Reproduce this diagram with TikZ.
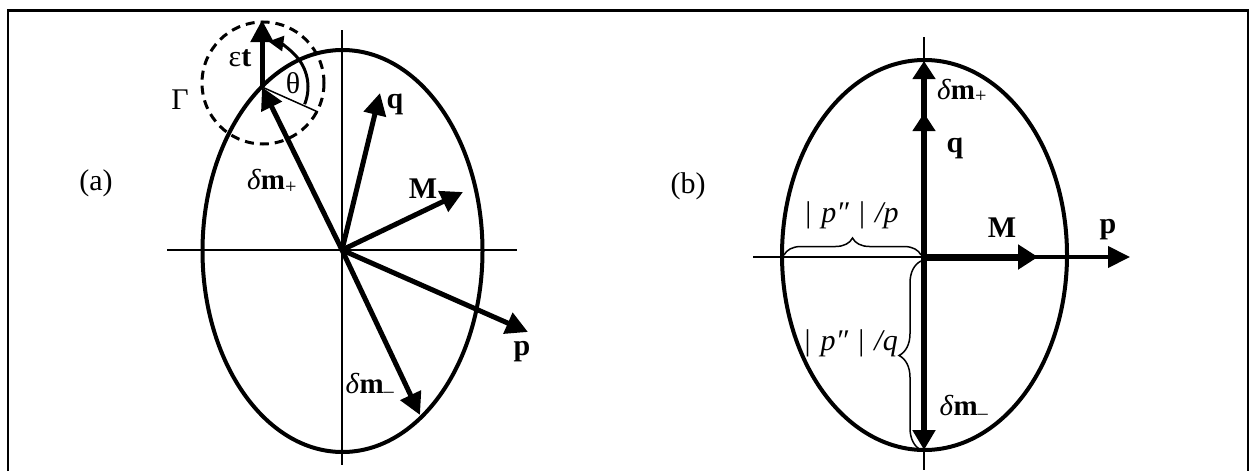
\documentclass[tikz,border=0pt]{standalone}
\usepackage{fontspec}
\setmainfont{Liberation Serif}
\usetikzlibrary{arrows.meta,decorations.pathreplacing}
\begin{document}
\begin{tikzpicture}[x=1pt,y=-1pt,
  lbl/.style={inner sep=0pt, font=\fontsize{30}{34}\selectfont},
  slbl/.style={inner sep=0pt, font=\fontsize{29}{33}\selectfont},
  ell/.style={line width=4pt},
  axisline/.style={line width=1.5pt},
  vec/.style={line width=5pt,-{Triangle[length=22pt,width=22pt]}},
  thinvec/.style={line width=4pt,-{Triangle[length=22pt,width=21pt]}},
  heavyvec/.style={line width=7pt,-{Triangle[length=20pt,width=24pt]}},
  upvec/.style={line width=6.5pt,-{Triangle[length=18pt,width=22pt]}},
  bracepath/.style={line width=1.5pt, decorate},
  gammacircle/.style={line width=3pt, dash pattern=on 9pt off 6pt},
  anglearc/.style={line width=3pt,-{Triangle[length=15pt,width=15pt]}}]
\useasboundingbox (0,0) rectangle (1249,471);
% frame
\coordinate (f1) at (8,471); \coordinate (f2) at (8,10.5);
\coordinate (f3) at (1248,10.5); \coordinate (f4) at (1248,471);
\draw[line width=2.2pt] (f1) -- (f2) -- (f3) -- (f4);

% ---------------- (a) ----------------
\coordinate (Oa) at (342,250);
\coordinate (ha1) at (167,250); \coordinate (ha2) at (517,250);
\coordinate (va1) at (342,30);  \coordinate (va2) at (342,465);
\draw[axisline] (ha1) -- (ha2);
\draw[axisline] (va1) -- (va2);
\draw[ell] (342.5,251) ellipse [x radius=140, y radius=201];
\coordinate (dmpa) at (262,87);
\coordinate (qa) at (380,93);
\coordinate (Ma) at (463,192);
\coordinate (pa) at (528,332);
\coordinate (dmma) at (420,415);
\coordinate (eta) at (262,20);
\coordinate (thl) at (318,112);
\draw[vec] (Oa) -- (qa);
\draw[vec] (Oa) -- (Ma);
\draw[vec] (Oa) -- (pa);
\draw[vec] (Oa) -- (dmma);
\draw[vec] (Oa) -- (dmpa);
\draw[vec] (dmpa) -- (eta);
\draw[gammacircle] (263,83) circle [radius=61];
\draw[axisline] (dmpa) -- (thl);
\draw[anglearc] ([shift={(22:46)}]dmpa) arc [start angle=22, end angle=-82, radius=46];

\node[lbl] (la) at (96,183) {(a)};
\node[lbl] (leps) at (240,58) {ε\textbf{t}};
\node[lbl] (lth) at (293,83) {θ};
\node[lbl] (lgam) at (180,100) {Γ};
\node[slbl] (ldmpa) at (272,181) {\textit{δ}\textbf{m}\textsubscript{+}};
\node[lbl] (lqa) at (395,104) {\textbf{q}};
\node[lbl] (lMa) at (423,189) {\textbf{M}};
\node[lbl] (lpa) at (522,352) {\textbf{p}};
\node[slbl] (ldmma) at (370,385) {\textit{δ}\textbf{m}\textsubscript{–}};

% ---------------- (b) ----------------
\coordinate (Ob) at (924,257);
\coordinate (hb1) at (753,257);
\coordinate (vb1) at (924,37); \coordinate (vb2) at (924,470);
\draw[axisline] (hb1) -- (Ob);
\draw[axisline] (vb1) -- (vb2);
\draw[ell] (924.5,255) ellipse [x radius=142.5, y radius=195];
\coordinate (dmpb) at (924,61);
\coordinate (qb) at (924,113);
\coordinate (Mb) at (1038,257);
\coordinate (pb) at (1130,257);
\coordinate (dmmb) at (924,450);
\draw[thinvec] (Ob) -- (pb);
\draw[heavyvec] (Ob) -- (Mb);
\draw[upvec] (Ob) -- (dmpb);
\draw[upvec] (Ob) -- (qb);
\draw[line width=5.5pt,-{Triangle[length=20pt,width=22pt]}] (Ob) -- (dmmb);
\coordinate (br1) at (784,255); \coordinate (br2) at (921,255);
\draw[bracepath, decoration={brace, amplitude=17pt}] (br1) -- (br2);
\coordinate (br3) at (921,450); \coordinate (br4) at (921,261);
\draw[bracepath, decoration={brace, amplitude=22pt}] (br3) -- (br4);

\node[lbl] (lb) at (688,186) {(b)};
\node[slbl] (ldmpb) at (962,91) {\textit{δ}\textbf{m}\textsubscript{+}};
\node[lbl] (lqb) at (955,148) {\textbf{q}};
\node[lbl] (lMb) at (1002,228) {\textbf{M}};
\node[lbl] (lpb) at (1108,230) {\textbf{p}};
\node[slbl] (ldmmb) at (964,407) {\textit{δ}\textbf{m}\textsubscript{–}};
\node[lbl] (lpp) at (852,215) {|\,\,\textit{p″}\,\,|\,\,\textit{/p}};
\node[lbl, anchor=east] (lpq) at (898,343) {|\,\,\textit{p″}\,\,|\,\,\textit{/q}};
\end{tikzpicture}
\end{document}
